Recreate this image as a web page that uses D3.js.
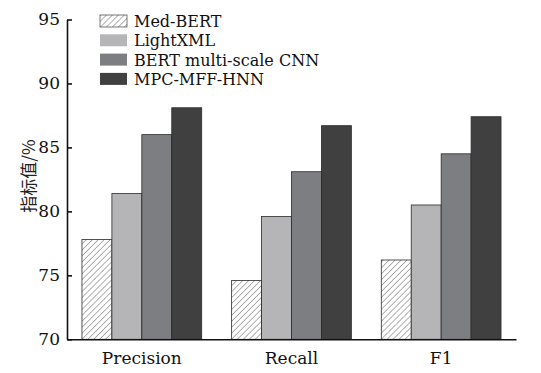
<!DOCTYPE html>
<html>
<head>
<meta charset="utf-8">
<script src="https://cdn.jsdelivr.net/npm/d3@7"></script>
<style>
  body { margin: 0; background: #fff; }
  svg { display: block; font-family: "DejaVu Serif", serif; }
</style>
</head>
<body>
<svg id="chart" width="541" height="373"></svg>
<script>
// chart data
var metrics = ["Precision", "Recall", "F1"];
var models  = ["Med-BERT", "LightXML", "BERT multi-scale CNN", "MPC-MFF-HNN"];
var medBert   = [77.8, 74.6, 76.2];
var lightXml  = [81.4, 79.6, 80.5];
var bertCnn   = [86.0, 83.1, 84.5];
var mpcMffHnn = [88.1, 86.7, 87.4];
var yTicks = [70, 75, 80, 85, 90, 95];

var seriesValues = [medBert, lightXml, bertCnn, mpcMffHnn];
var fills = ["url(#hatch)", "#b5b5b7", "#7d7e82", "#404040"];
var serif = "'DejaVu Serif', serif";

var svg = d3.select("#chart");
var margin = {left: 67, right: 25, top: 19.5, bottom: 33.7};
var W = 541, H = 373;

// hatch pattern for Med-BERT
var pat = svg.append("defs").append("pattern")
  .attr("id", "hatch")
  .attr("patternUnits", "userSpaceOnUse")
  .attr("width", 4.2).attr("height", 4.2)
  .attr("patternTransform", "rotate(45)");
pat.append("rect").attr("width", 4.2).attr("height", 4.2).attr("fill", "#fff");
pat.append("line")
  .attr("x1", 0).attr("y1", 0).attr("x2", 0).attr("y2", 4.2)
  .attr("stroke", "#666").attr("stroke-width", 1);

var x0 = d3.scaleBand()
  .domain(metrics)
  .range([margin.left, W - margin.right])
  .paddingInner(0.2)
  .paddingOuter(0.1);

var x1 = d3.scaleBand()
  .domain(d3.range(models.length))
  .range([0, x0.bandwidth()]);

var y = d3.scaleLinear()
  .domain([70, 95])
  .range([H - margin.bottom, margin.top]);

// bars
var groups = svg.append("g").selectAll("g")
  .data(metrics)
  .enter().append("g")
  .attr("transform", function(d) { return "translate(" + x0(d) + ",0)"; });

groups.selectAll("rect")
  .data(function(d, i) {
    return seriesValues.map(function(s, k) { return {k: k, v: s[i]}; });
  })
  .enter().append("rect")
  .attr("x", function(d) { return x1(d.k); })
  .attr("width", x1.bandwidth())
  .attr("y", function(d) { return y(d.v); })
  .attr("height", function(d) { return y(70) - y(d.v); })
  .attr("fill", function(d) { return fills[d.k]; })
  .attr("stroke", "#2a2a2a")
  .attr("stroke-width", 0.8);

// y axis
var yAxis = svg.append("g")
  .attr("transform", "translate(" + margin.left + ",0)")
  .call(d3.axisRight(y).tickValues(yTicks).tickSize(5).tickSizeOuter(0));
yAxis.select(".domain").attr("stroke", "#111").attr("stroke-width", 1.6);
yAxis.selectAll(".tick line").attr("stroke", "#111").attr("stroke-width", 1.6);
yAxis.selectAll(".tick text")
  .attr("x", -7)
  .attr("text-anchor", "end")
  .attr("fill", "#111")
  .style("font-size", "17px")
  .style("font-family", serif);

// x axis
var xAxis = svg.append("g")
  .attr("transform", "translate(0," + y(70) + ")")
  .call(d3.axisBottom(x0).tickSize(0).tickSizeOuter(0));
xAxis.select(".domain").attr("stroke", "#111").attr("stroke-width", 1.6);
xAxis.selectAll(".tick text")
  .attr("dy", "0")
  .attr("y", 25)
  .attr("fill", "#111")
  .style("font-size", "17px")
  .style("font-family", serif);

// y label
svg.append("text")
  .attr("transform", "translate(35," + 176 + ") rotate(-90)")
  .attr("text-anchor", "middle")
  .attr("fill", "#222")
  .style("font-size", "17px")
  .style("font-family", "'Noto Sans CJK SC', sans-serif")
  .text("指标值/%");

// legend
var legend = svg.append("g").attr("transform", "translate(100,15)");
var rows = legend.selectAll("g")
  .data(models)
  .enter().append("g")
  .attr("transform", function(d, i) { return "translate(0," + i * 19.3 + ")"; });
rows.append("rect")
  .attr("width", 27).attr("height", 12)
  .attr("fill", function(d, i) { return fills[i]; })
  .attr("stroke", function(d, i) { return i == 0 ? "#555" : "none"; })
  .attr("stroke-width", 0.8);
rows.append("text")
  .attr("x", 34).attr("y", 12)
  .attr("fill", "#111")
  .style("font-size", "16px")
  .style("font-family", serif)
  .text(function(d) { return d; });
</script>
</body>
</html>
